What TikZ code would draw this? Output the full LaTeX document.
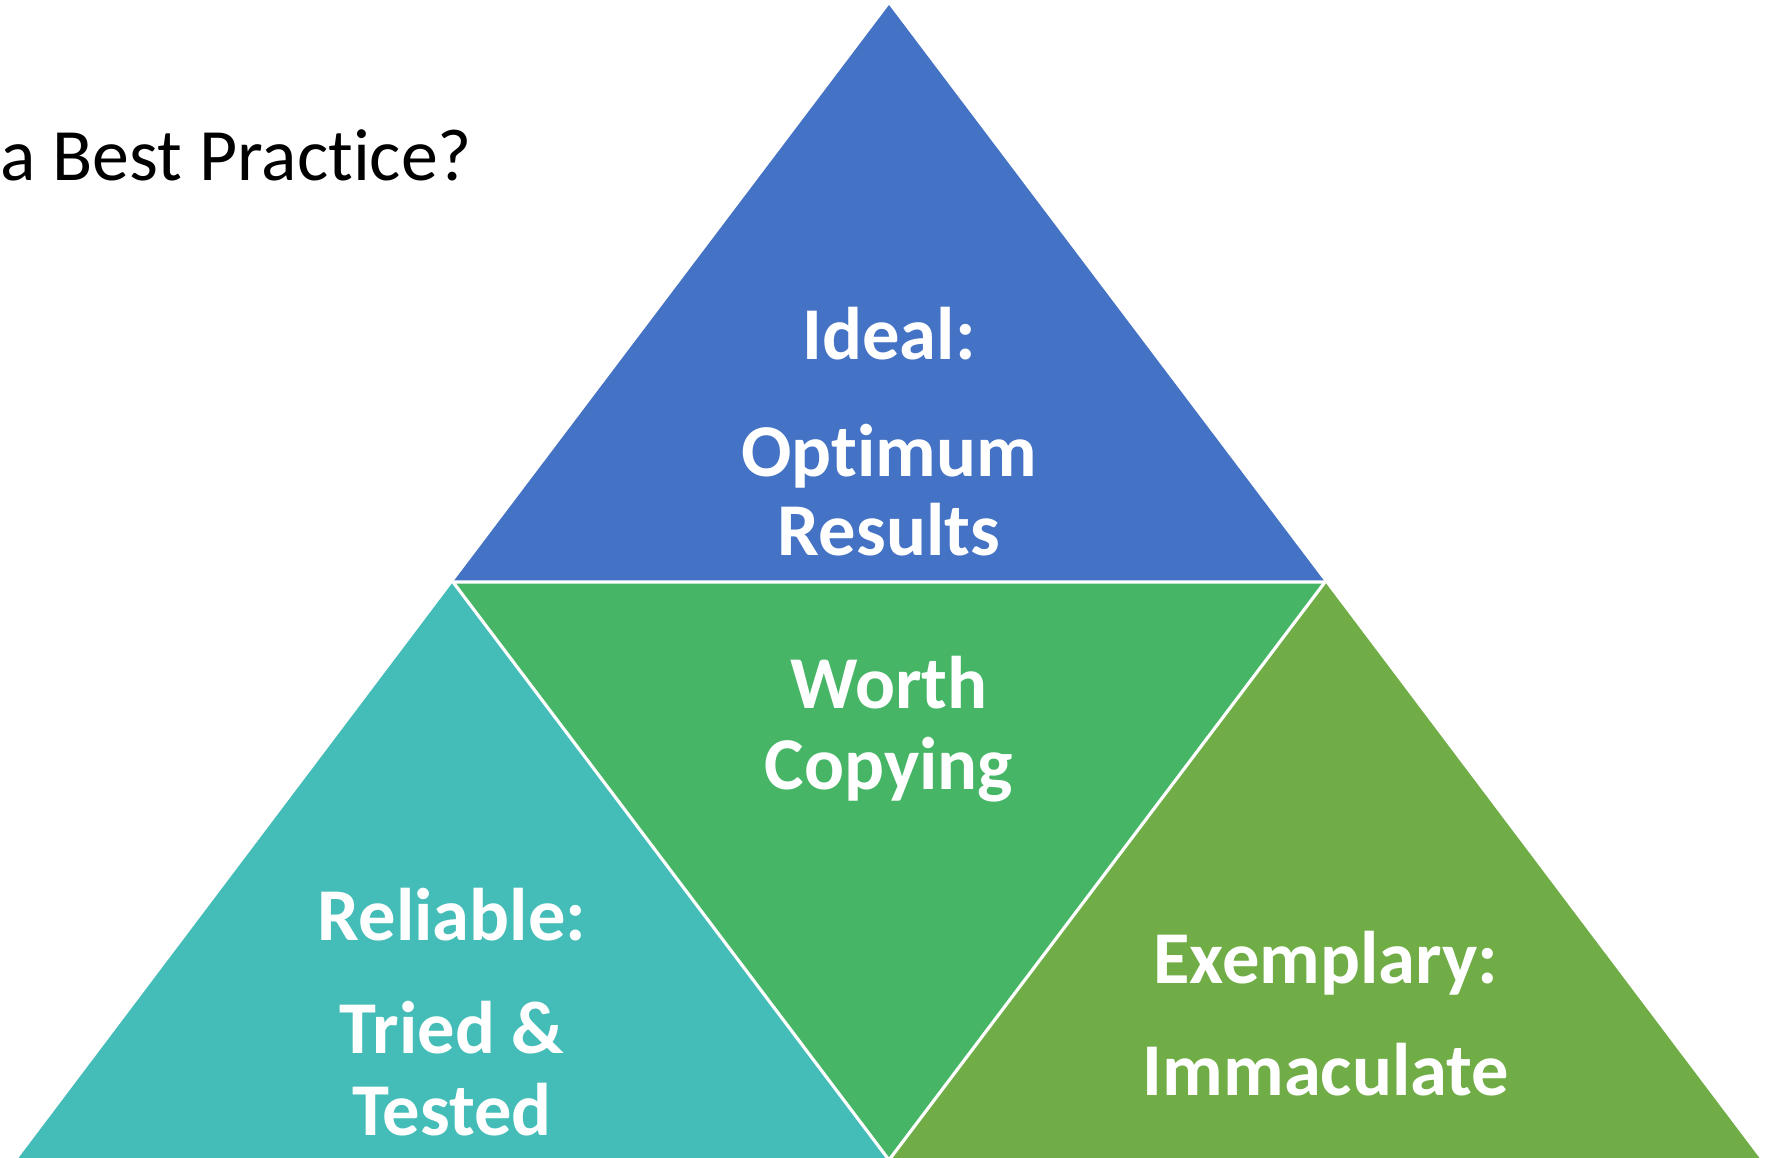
\documentclass[tikz,border=0pt]{standalone}
\usepackage{fontspec}
\setmainfont[Ligatures=NoCommon]{Carlito}
\definecolor{idealblue}{HTML}{4472C4}
\definecolor{worthgreen}{HTML}{47B566}
\definecolor{reliableteal}{HTML}{44BDB8}
\definecolor{exemplaryolive}{HTML}{70AD47}

\begin{document}
\begin{tikzpicture}[x=0.01cm,y=-0.01cm,
	lbl/.style={text=white,font=\fontsize{21.2}{25}\selectfont\bfseries,anchor=base,inner sep=0pt}]
	\clip (0,0) rectangle (1776,1158);
	\useasboundingbox (0,0) rectangle (1776,1158);
	% corners of the big triangle
	\coordinate (top) at (889,5);
	\coordinate (ml) at (453,582);
	\coordinate (mr) at (1325,582);
	\coordinate (bl) at (17,1160);
	\coordinate (bm) at (889,1160);
	\coordinate (br) at (1761,1160);
	\fill[idealblue] (top)--(ml)--(mr)--cycle;
	\fill[worthgreen] (ml)--(mr)--(bm)--cycle;
	\fill[reliableteal] (ml)--(bl)--(bm)--cycle;
	\fill[exemplaryolive] (mr)--(bm)--(br)--cycle;
	\draw[white,line width=0.9pt] (ml)--(mr) (ml)--(bm)--(mr);
	% texts
	\node[anchor=base west,inner sep=0pt,font=\fontsize{21}{25}\selectfont] (title) at (0,181) {a Best Practice?};
	\node[lbl] (ideal) at (889,360) {Ideal:};
	\node[lbl] (optimum) at (889,476) {Optimum};
	\node[lbl] (results) at (889,555) {Results};
	\node[lbl] (worth) at (889,708) {Worth};
	\node[lbl] (copying) at (889,789) {Copying};
	\node[lbl] (reliable) at (452,940) {Reliable:};
	\node[lbl] (tried) at (452,1053) {Tried \&};
	\node[lbl] (tested) at (452,1135) {Tested};
	\node[lbl] (exemplary) at (1326,983) {Exemplary:};
	\node[lbl] (immaculate) at (1326,1095) {Immaculate};
\end{tikzpicture}
\end{document}
